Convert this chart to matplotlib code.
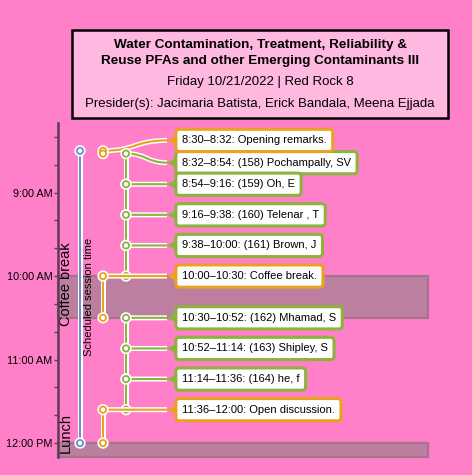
import matplotlib
matplotlib.use('Agg')
import matplotlib.pyplot as plt
import matplotlib.patheffects as pe
from matplotlib.patches import Rectangle, Polygon, PathPatch
from matplotlib.path import Path
from matplotlib.ticker import FixedLocator

plt.rcParams['font.family'] = ['Liberation Sans', 'DejaVu Sans']

# session data
starts = ['8:30', '8:32', '8:54', '9:16', '9:38', '10:00', '10:30', '10:52', '11:14', '11:36']
ends = ['8:32', '8:54', '9:16', '9:38', '10:00', '10:30', '10:52', '11:14', '11:36', '12:00']
titles = ['Opening remarks.', '(158) Pochampally, SV', '(159) Oh, E', '(160) Telenar , T',
          '(161) Brown, J', 'Coffee break.', '(162) Mhamad, S', '(163) Shipley, S',
          '(164) he, f', 'Open discussion.']
is_talk = [False, True, True, True, True, False, True, True, True, False]
label_shift = [-7.5, 6.5, 0, 0, 0, 0, 0, 0, 0, 0]   # minutes, dodge of the labels

session = ('8:30', '12:00')
breaks = [('Coffee break', '10:00', '10:30'), ('Lunch', '12:00', '12:10')]
break_label_at = ['10:06', '11:53']
hour_ticks = ['9:00', '10:00', '11:00', '12:00']
hour_labels = ['9:00 AM', '10:00 AM', '11:00 AM', '12:00 PM']

title_lines = ['Water Contamination, Treatment, Reliability &',
               'Reuse PFAs and other Emerging Contaminants III']
subtitle = 'Friday 10/21/2022 | Red Rock 8'
presiders = 'Presider(s): Jacimaria Batista, Erick Bandala, Meena Ejjada'


def tmin(s):
    h, m = s.split(':')
    return int(h) * 60 + int(m)


bg = '#ff80c8'
orange = '#e8a21f'
green = '#8cb33c'
blue = '#6b8fcb'
halo = [pe.Stroke(linewidth=3.6, foreground='white'), pe.Normal()]

fig = plt.figure(figsize=(4.72, 4.75), dpi=100, facecolor=bg)
ax = fig.add_axes([58 / 472, 18 / 475, 370 / 472, 334 / 475])
ax.set_facecolor(bg)
ax.set_xlim(0, 370)
ax.set_ylim(730, 490)

# break bands
for (name, b0, b1), at in zip(breaks, break_label_at):
    ax.add_patch(Rectangle((0, tmin(b0)), 370, tmin(b1) - tmin(b0), fc='#bc7fa0',
                           ec='#a77190', lw=1.6, zorder=0.5, clip_on=False))
    ax.text(8, tmin(at), name, rotation=90, ha='center', va='center', fontsize=10.5, zorder=1)

# scheduled session line
col_session, col_other, col_talk = 22, 45, 68
tip, text_x = 109, 124
ax.plot([col_session, col_session], [tmin(session[0]), tmin(session[1])], color=blue, lw=1.5,
        marker='o', ms=4.5, mfc='white', mec=blue, mew=1.3, path_effects=halo, zorder=2)
mid = (tmin(session[0]) + tmin(session[1])) / 2
ax.text(col_session + 4, mid, 'Scheduled session time', rotation=90, ha='left', va='center',
        fontsize=8, zorder=2)

for i in range(len(starts)):
    s, e = tmin(starts[i]), tmin(ends[i])
    ly = s + label_shift[i]
    color = green if is_talk[i] else orange
    col = col_talk if is_talk[i] else col_other
    xm = (col + tip) / 2
    path = Path([(col, s), (xm, s), (xm, ly), (tip, ly)],
                [Path.MOVETO, Path.CURVE4, Path.CURVE4, Path.CURVE4])
    ax.add_patch(PathPatch(path, fill=False, ec=color, lw=1.5, path_effects=halo, zorder=2))
    ax.plot([col, col], [s, e], color=color, lw=1.5, marker='o', ms=4.5, mfc='white',
            mec=color, mew=1.3, path_effects=halo, zorder=2)

    z = 20 if i == 0 else 5 + i
    ax.add_patch(Polygon([(tip, ly), (118.5, ly - 3.6), (118.5, ly + 3.6)], closed=True,
                         fc=color, ec='none', zorder=z))
    ax.text(text_x, ly, f'{starts[i]}\u2013{ends[i]}: {titles[i]}', ha='left', va='center',
            fontsize=8, zorder=z,
            bbox=dict(boxstyle='round,pad=0.55,rounding_size=0.3', fc='white', ec=color, lw=2.2))

# axis styling
for side in ['top', 'right', 'bottom']:
    ax.spines[side].set_visible(False)
ax.spines['left'].set_color('#5c3b52')
ax.spines['left'].set_linewidth(1.8)
ax.set_xticks([])
ax.yaxis.set_major_locator(FixedLocator([tmin(t) for t in hour_ticks]))
ax.set_yticklabels(hour_labels)
ax.yaxis.set_minor_locator(FixedLocator(list(range(500, 731, 20))))
ax.tick_params(axis='y', which='both', length=3, width=1, color='#5c3b52', labelsize=7.8, pad=1)

# title box
fig.patches.append(Rectangle((72 / 472, 1 - 118 / 475), 376 / 472, 88 / 475,
                             transform=fig.transFigure, fc='#ffb8e0', ec='black', lw=1.8))
fig.text(260 / 472, 1 - 45 / 475, title_lines[0], ha='center', va='center',
         fontsize=9.7, fontweight='bold')
fig.text(260 / 472, 1 - 61 / 475, title_lines[1], ha='center', va='center',
         fontsize=9.7, fontweight='bold')
fig.text(260 / 472, 1 - 82 / 475, subtitle, ha='center', va='center', fontsize=9.5)
fig.text(260 / 472, 1 - 104 / 475, presiders, ha='center', va='center', fontsize=9.5)

plt.savefig('out.png', dpi=100, facecolor=bg)
